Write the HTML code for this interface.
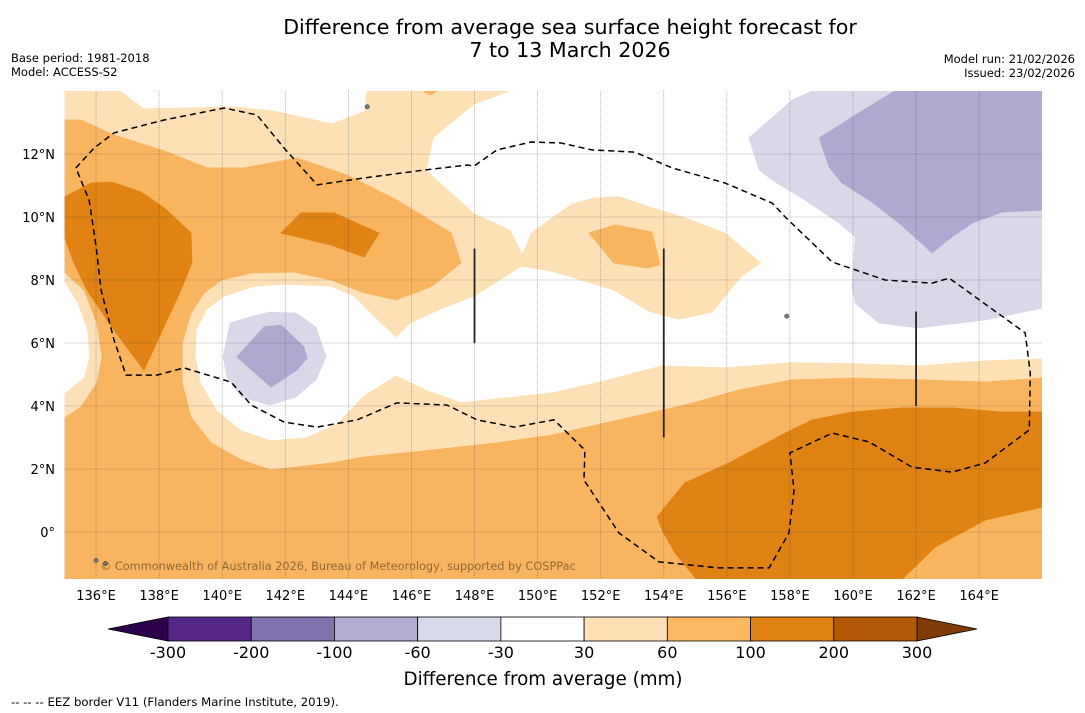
<!DOCTYPE html>
<html><head><meta charset="utf-8"><style>
body{margin:0;background:#fff;font-family:"DejaVu Sans","Liberation Sans",sans-serif}
svg{display:block}
svg text{font-family:"DejaVu Sans","Liberation Sans",sans-serif}
</style></head><body>
<svg id="s" width="1085" height="713" viewBox="0 0 1085 713" xmlns="http://www.w3.org/2000/svg">
<defs><clipPath id="mc"><rect x="64.5" y="91" width="977.5" height="488"/></clipPath></defs>
<text x="570" y="34" text-anchor="middle" font-size="20.6">Difference from average sea surface height forecast for</text>
<text x="570" y="57" text-anchor="middle" font-size="20.6">7 to 13 March 2026</text>
<text x="11" y="62" font-size="11.5">Base period: 1981-2018</text>
<text x="11" y="76" font-size="11.5">Model: ACCESS-S2</text>
<text x="1075" y="63" font-size="11.5" text-anchor="end">Model run: 21/02/2026</text>
<text x="1075" y="77" font-size="11.5" text-anchor="end">Issued: 23/02/2026</text>
<g id="map" clip-path="url(#mc)"></g>
<g id="axes"></g>
<g id="cbar"></g>
<text x="543" y="685" text-anchor="middle" font-size="18.3">Difference from average (mm)</text>
<text x="11" y="706" font-size="11.7">--  --  -- EEZ border V11 (Flanders Marine Institute, 2019).</text>
</svg>
<script>
const lonTicks=[136,138,140,142,144,146,148,150,152,154,156,158,160,162,164];
const latTicks=[0,2,4,6,8,10,12];
const cbBounds=[-300,-200,-100,-60,-30,30,60,100,200,300];
const cbColors=["#542788","#8073ac","#b2abd2","#d8daeb","#ffffff","#fee0b6","#fdb863","#e08214","#b35806"];
const whiteMain=[[149.16,14],[166,14],[166,5.52],[164.19,5.46],[162.10,5.30],[159.97,5.37],[158.07,5.40],[155.94,5.24],[153.95,5.30],[152.14,4.83],[150.46,4.44],[147.57,4.13],[146.49,4.51],[145.51,4.98],[144.50,4.35],[143.64,3.46],[142.69,3.02],[141.55,2.92],[140.60,3.24],[139.84,3.87],[139.33,4.73],[139.17,5.56],[139.20,6.41],[139.52,7.05],[140.06,7.46],[141.01,7.78],[141.96,7.84],[143.45,7.78],[144.18,7.46],[144.91,6.73],[145.51,6.16],[145.99,6.63],[147.13,7.14],[147.99,7.46],[149.48,8.41],[150.46,8.25],[152.36,7.68],[153.53,6.98],[154.48,6.73],[155.53,6.95],[156.48,8.10],[157.12,8.54],[155.94,9.52],[154.67,10.0],[153.63,10.32],[152.58,10.67],[151.82,10.63],[151.09,10.44],[150.46,10.0],[149.79,9.52],[149.51,8.86],[149.16,9.59],[147.99,10.13],[146.49,11.49],[146.71,12.51],[147.99,13.56]];
const whiteTop=[[136.79,14],[137.52,13.46],[140.47,13.52],[141.74,13.37],[143.48,12.98],[144.50,13.37],[144.56,14]];
const whiteLeft=[[135,7.90],[135.40,7.27],[135.71,6.41],[135.78,5.56],[135.62,4.92],[135,4.41]];
const orangeMain=[[135,13.08],[135.52,13.08],[136.57,12.60],[138.16,12.10],[139.52,11.56],[140.69,11.56],[142.37,11.87],[143.96,11.33],[145.54,10.54],[147.26,9.49],[147.57,8.54],[146.62,7.78],[145.51,7.37],[144.50,7.59],[143.45,8.0],[142.28,8.25],[140.92,8.22],[139.97,8.0],[139.43,7.59],[139.01,6.95],[138.73,6.0],[138.73,4.73],[139.01,3.65],[139.65,2.83],[140.60,2.29],[141.55,1.97],[143.45,2.19],[144.50,2.38],[146.62,2.60],[148.71,2.83],[150.46,3.08],[152.58,3.56],[154.67,4.03],[156.39,4.51],[158.07,4.83],[159.97,4.89],[162.10,4.83],[164.19,4.76],[166,4.89],[166,-1.6],[135,-1.6],[135,3.62],[135.52,3.97],[136.03,4.73],[136.19,5.56],[136.03,6.63],[135.62,7.68],[135,8.25]];
const orangeMid=[[151.63,9.49],[152.46,9.75],[153.63,9.52],[153.88,8.48],[153.47,8.38],[152.42,8.54]];
const orangeTop=[[146.37,14],[146.81,14],[146.59,13.87]];
const darkLeft=[[135,10.63],[135.84,11.08],[136.51,11.11],[137.43,10.79],[138.16,10.29],[139.01,9.49],[139.04,8.54],[138.69,7.68],[137.52,5.14],[136.57,6.41],[135.71,7.68],[135.30,8.54],[135,9.37]];
const darkMid=[[141.87,9.49],[142.50,10.13],[143.55,10.13],[144.97,9.49],[144.50,8.73],[143.45,9.11]];
const darkBottom=[[153.79,0.48],[154.67,1.56],[156.07,2.19],[157.85,3.14],[158.71,3.56],[159.97,3.81],[161.56,3.94],[163.14,3.94],[164.73,3.81],[166,3.81],[166,0.79],[164.19,0.38],[162.60,-0.48],[161.46,-1.6],[155.12,-1.6],[154.36,-0.67],[153.95,0.06]];
const lpRight=[[156.70,12.51],[158.07,13.71],[158.71,14],[166,14],[166,7.11],[164.19,6.73],[162.10,6.48],[160.83,6.63],[160.07,7.27],[159.97,7.78],[160.07,9.37],[159.56,9.81],[158.48,10.54],[157.44,11.17],[157.03,11.49]];
const pRight=[[158.93,12.51],[159.97,13.17],[161.33,14],[166,14],[166,10.22],[164.73,10.16],[163.78,9.81],[163.14,9.37],[162.51,8.86],[161.46,9.81],[160.51,10.54],[159.65,11.08],[159.24,11.59]];
const lpLeft=[[140.03,5.56],[140.25,6.63],[140.88,6.83],[141.51,6.98],[142.34,6.95],[142.97,6.51],[143.29,5.56],[142.97,4.83],[142.34,4.29],[141.51,4.03],[140.60,4.29],[140.15,4.92]];
const pLeft=[[140.47,5.56],[141.33,6.51],[141.87,6.57],[142.59,5.87],[142.69,5.52],[142.37,5.14],[141.55,4.60]];
const eez=[[135.36,11.56],[135.94,12.19],[136.57,12.67],[138.16,13.08],[140.06,13.46],[141.10,13.24],[141.96,12.19],[143.01,11.02],[144.50,11.24],[146.40,11.49],[147.76,11.65],[147.99,11.62],[148.71,12.13],[149.79,12.38],[150.74,12.35],[151.72,12.13],[153.08,12.06],[154.26,11.56],[155.94,11.08],[157.44,10.44],[157.85,10.0],[159.34,8.57],[161.02,8.0],[162.51,7.90],[163.05,8.06],[165.46,6.32],[165.62,5.05],[165.59,3.24],[164.19,2.19],[163.14,1.90],[161.87,2.06],[160.51,2.86],[159.34,3.14],[158.0,2.51],[158.13,1.33],[157.97,-0.03],[157.34,-1.14],[155.75,-1.14],[153.85,-0.95],[152.58,-0.03],[151.47,1.65],[151.50,2.60],[150.52,3.56],[149.26,3.33],[148.08,3.56],[147.13,4.03],[145.54,4.10],[144.28,3.56],[143.01,3.33],[141.96,3.49],[140.92,4.03],[140.28,4.76],[138.79,5.21],[137.93,4.98],[136.95,4.98],[136.57,6.10],[136.16,7.68],[136.0,9.08],[135.78,10.54],[135.36,11.56]];
const meridianBars=[[148,9,6],[154,9,3],[162,7,4]];
const islands=[[144.6,13.5],[136.0,-0.9],[157.9,6.85],[136.3,-1.0]];

const NS="http://www.w3.org/2000/svg";
const X=lon=>64.5+(lon-135)*31.54;
const Y=lat=>91+(14-lat)*31.5;
const CX=v=>{let i=cbBounds.findIndex((b,k)=>v<=cbBounds[k+1]);if(i<0)i=cbBounds.length-2;const w=(917-168)/(cbBounds.length-1);return 168+(i+(v-cbBounds[i])/(cbBounds[i+1]-cbBounds[i]))*w;};
const map=document.getElementById('map'),axes=document.getElementById('axes'),cbar=document.getElementById('cbar');
function mk(tag,attrs,parent){const e=document.createElementNS(NS,tag);for(const k in attrs)e.setAttribute(k,attrs[k]);parent.appendChild(e);return e;}
function poly(arr,fill,name){const e=mk('polygon',{points:arr.map(p=>X(p[0])+','+Y(p[1])).join(' '),fill:fill,stroke:fill,'stroke-width':0.8},map);

return e;}
const bg=mk('rect',{x:64.5,y:91,width:977.5,height:488,fill:'#fde0b5'},map);


poly(whiteMain,'#ffffff','contour-neutral-main');
poly(whiteTop,'#ffffff','contour-neutral-top');
poly(whiteLeft,'#ffffff','contour-neutral-left');
poly(orangeMain,'#f9b45f','contour-60-100-main');
poly(orangeMid,'#f9b45f','contour-60-100-mid');
poly(orangeTop,'#f9b45f','contour-60-100-top');
poly(darkLeft,'#e08214','contour-100-200-left');
poly(darkMid,'#e08214','contour-100-200-mid');
poly(darkBottom,'#e08214','contour-100-200-bottom');
poly(lpRight,'#d8d8e9','contour-neg30-60-right');
poly(pRight,'#b0a8d0','contour-neg60-100-right');
poly(lpLeft,'#d8d8e9','contour-neg30-60-left');
poly(pLeft,'#b0a8d0','contour-neg60-100-left');
lonTicks.forEach(l=>{const g=mk('line',{x1:X(l),x2:X(l),y1:91,y2:579,stroke:'rgba(60,60,60,0.45)','stroke-width':0.8,'stroke-dasharray':'1 1'},map);

});
latTicks.forEach(l=>{const g=mk('line',{x1:64.5,x2:1042,y1:Y(l),y2:Y(l),stroke:'rgba(60,60,60,0.45)','stroke-width':0.8,'stroke-dasharray':'1 1'},map);

});
const ez=mk('polyline',{points:eez.map(p=>X(p[0])+','+Y(p[1])).join(' '),fill:'none',stroke:'#000','stroke-width':1.5,'stroke-dasharray':'6 4'},map);


meridianBars.forEach(m=>{const b=mk('line',{x1:X(m[0]),x2:X(m[0]),y1:Y(m[1]),y2:Y(m[2]),stroke:'#222','stroke-width':1.8},map);

});
islands.forEach(p=>{const c=mk('circle',{cx:X(p[0]),cy:Y(p[1]),r:2.2,fill:'#777',stroke:'#333','stroke-width':0.5},map);

});
const cr=mk('text',{x:100,y:570,'font-size':11.3,fill:'rgba(110,80,40,0.75)'},map);
cr.textContent='© Commonwealth of Australia 2026, Bureau of Meteorology, supported by COSPPac';


lonTicks.forEach(l=>{const t=mk('text',{x:X(l),y:600,'font-size':13,'text-anchor':'middle'},axes);t.textContent=l+'°E';

});
latTicks.forEach(l=>{const t=mk('text',{x:55,y:Y(l)+5,'font-size':13,'text-anchor':'end'},axes);t.textContent=l===0?'0°':l+'°N';

});
const lo=mk('polygon',{points:'108,629 168,617 168,641',fill:'#2d004b',stroke:'#000','stroke-width':0.8},cbar);


const hi=mk('polygon',{points:'977,629 917,617 917,641',fill:'#7f3b08',stroke:'#000','stroke-width':0.8},cbar);


cbColors.forEach((c,i)=>{const x1=CX(cbBounds[i]),x2=CX(cbBounds[i+1]);const r=mk('rect',{x:x1,y:617,width:x2-x1,height:24,fill:c,stroke:'#000','stroke-width':0.8},cbar);

});
cbBounds.forEach(v=>{const t=mk('text',{x:CX(v),y:658,'font-size':16,'text-anchor':'middle'},cbar);t.textContent=v;

});
</script>
</body></html>
